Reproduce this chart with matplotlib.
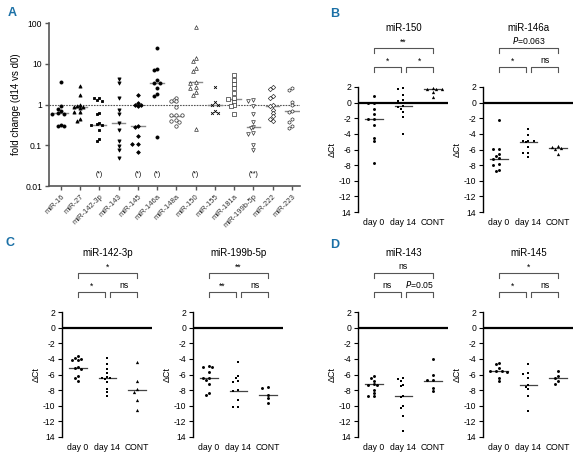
import numpy as np
import matplotlib
matplotlib.use("Agg")
import matplotlib.pyplot as plt

plt.rcParams['font.family'] = ['Liberation Sans Narrow', 'Liberation Sans', 'DejaVu Sans']
plt.rcParams['mathtext.fontset'] = 'custom'
plt.rcParams['mathtext.rm'] = 'Liberation Sans Narrow'
plt.rcParams['mathtext.it'] = 'Liberation Sans Narrow:italic'

# ---------------- Panel A data (fold change d14 vs d0) ----------------
A_categories = ['miR-16', 'miR-27', 'miR-142-3p', 'miR-143', 'miR-145', 'miR-146a',
                'miR-148a', 'miR-150', 'miR-155', 'miR-181a', 'miR-199b-5p', 'miR-222', 'miR-223']
fc_mir16 = [3.6, 0.9, 0.78, 0.69, 0.62, 0.6, 0.59, 0.32, 0.29, 0.29]
fc_mir27 = [2.8, 1.75, 0.95, 0.9, 0.88, 0.85, 0.8, 0.66, 0.66, 0.43, 0.4]
fc_mir142 = [1.45, 1.45, 1.3, 1.25, 0.62, 0.57, 0.35, 0.33, 0.32, 0.32, 0.24, 0.14, 0.13]
fc_mir143 = [4.2, 3.4, 1.45, 0.75, 0.57, 0.35, 0.24, 0.13, 0.095, 0.075, 0.05]
fc_mir145 = [1.75, 1.1, 1.0, 0.95, 0.9, 0.3, 0.28, 0.17, 0.11, 0.11, 0.07]
fc_mir146a = [24, 7.5, 7.0, 4.0, 3.4, 3.3, 2.6, 1.8, 1.6, 0.16]
fc_mir148a = [1.45, 1.3, 1.2, 1.2, 0.85, 0.55, 0.55, 0.55, 0.42, 0.4, 0.38, 0.3]
fc_mir150 = [81, 14, 12, 8.0, 6.8, 3.5, 3.4, 2.7, 2.6, 2.0, 1.75, 0.25]
fc_mir155 = [2.7, 1.15, 1.0, 0.96, 0.71, 0.62, 0.62]
fc_mir181a = [5.2, 4.0, 3.2, 2.5, 1.9, 1.45, 1.4, 1.15, 0.95, 0.9, 0.6]
fc_mir199b = [1.3, 1.25, 0.9, 0.6, 0.37, 0.28, 0.26, 0.2, 0.19, 0.1, 0.075]
fc_mir222 = [2.7, 2.4, 1.6, 1.45, 1.0, 0.9, 0.75, 0.62, 0.52, 0.45, 0.4]
fc_mir223 = [2.6, 2.3, 1.18, 0.95, 0.71, 0.67, 0.43, 0.38, 0.29, 0.27]
A_medians = [0.62, 0.86, 0.32, 0.35, 0.30, 3.3, 0.52, 3.5, 0.95, 1.4, 0.28, 0.9, 0.7]
A_sig = ['', '', '(*)', '', '(*)', '(*)', '', '(*)', '', '', '(**)', '', '']
A_yticks = [0.01, 0.1, 1, 10, 100]
A_yticklabels = ['0.01', '0.1', '1', '10', '100']

# ---------------- Panels B-D data (delta Ct) ----------------
groups = ['day 0', 'day 14', 'CONT']
dct_yticks = [2, 0, -2, -4, -6, -8, -10, -12, -14]
dct_yticklabels = ['2', '0', '-2', '-4', '-6', '-8', '-10', '-12', '14']

mir150_d0 = [0.9, -0.1, -0.1, -0.8, -1.4, -2.15, -2.15, -2.9, -4.5, -4.9, -7.7]
mir150_d14 = [1.9, 1.8, 1.0, 0.3, 0.2, -0.45, -0.5, -0.8, -1.2, -1.85, -4.0]
mir150_cont = [1.9, 1.8, 1.7, 1.7, 1.4, 0.7]
mir150_med = [-2.15, -0.45, 1.7]

mir146a_d0 = [-2.2, -5.9, -5.9, -6.6, -6.8, -7.1, -7.2, -7.9, -8.0, -8.6, -8.8]
mir146a_d14 = [-3.35, -4.1, -4.85, -4.85, -4.9, -5.0, -5.7, -6.4, -6.5, -6.9]
mir146a_cont = [-5.6, -5.7, -5.8, -5.9, -6.6]
mir146a_med = [-7.2, -5.0, -5.85]

mir142_d0 = [-3.6, -3.9, -4.0, -4.1, -4.2, -5.0, -5.2, -5.3, -6.2, -6.5, -6.8]
mir142_d14 = [-3.9, -4.6, -5.3, -5.8, -6.3, -6.4, -6.5, -6.6, -7.0, -7.8, -8.3, -8.8]
mir142_cont = [-4.4, -6.8, -7.9, -8.2, -9.2, -10.5]
mir142_med = [-5.2, -6.4, -8.0]

mir199b_d0 = [-4.9, -5.0, -5.1, -5.7, -6.4, -6.5, -6.7, -7.2, -8.35, -8.6]
mir199b_d14 = [-4.4, -6.2, -6.4, -6.8, -6.9, -8.0, -8.1, -9.2, -10.1, -10.1]
mir199b_cont = [-7.6, -7.7, -8.6, -9.0, -9.6]
mir199b_med = [-6.5, -8.1, -8.6]

mir143_d0 = [-6.2, -6.5, -6.8, -7.2, -7.3, -7.4, -8.0, -8.4, -8.8, -8.8]
mir143_d14 = [-6.5, -6.6, -6.8, -7.3, -7.5, -8.75, -8.9, -10.0, -10.3, -11.3, -13.2]
mir143_cont = [-4.0, -6.0, -6.7, -6.75, -7.7, -8.1]
mir143_med = [-7.2, -8.75, -6.8]

mir145_d0 = [-4.5, -4.7, -5.2, -5.5, -5.6, -5.6, -5.7, -6.4, -6.8]
mir145_d14 = [-4.7, -5.8, -5.9, -6.5, -7.4, -7.6, -7.9, -8.75, -10.7]
mir145_cont = [-5.55, -6.2, -6.4, -6.85, -7.2]
mir145_med = [-5.6, -7.4, -6.4]

# ---------------- helpers ----------------
W, H = 578, 457
fig = plt.figure(figsize=(W / 100, H / 100), dpi=100)


def add_ax(x0, x1, y0, y1):
    return fig.add_axes([x0 / W, 1 - y1 / H, (x1 - x0) / W, (y1 - y0) / H])


def swarm(vals, px_per_unit, px_per_cat, diam=3.0, log=False):
    vals = np.asarray(vals, dtype=float)
    yp = (np.log10(vals) if log else vals) * px_per_unit
    order = np.argsort(-yp)
    placed = []
    offs = np.zeros(len(vals))
    cands = [0]
    for k in range(1, 12):
        cands += [-k * diam * 0.95, k * diam * 0.95]
    for i in order:
        for c in cands:
            ok = all((c - px) ** 2 + (yp[i] - py) ** 2 >= diam ** 2 for px, py in placed)
            if ok:
                placed.append((c, yp[i]))
                offs[i] = c / px_per_cat
                break
    return offs


letter_color = '#1b70a6'
txt_fs = 6.2

# ---------------- Panel A ----------------
axA = add_ax(49, 300, 23, 186)
A_series = [fc_mir16, fc_mir27, fc_mir142, fc_mir143, fc_mir145, fc_mir146a, fc_mir148a,
            fc_mir150, fc_mir155, fc_mir181a, fc_mir199b, fc_mir222, fc_mir223]
A_markers = ['o', '^', 's', 'v', 'D', 'o', 'o', '^', 'x', 's', 'v', 'D', 'h']
A_filled = [True, True, True, True, True, True, False, False, True, False, False, False, False]
A_sizes = [5, 5, 4.5, 5, 3.5, 5, 6, 7, 4, 6, 7, 5, 6]
cat_px = 19.25
for i, vals in enumerate(A_series):
    offs = swarm(vals, 40.6, cat_px, diam=3.0, log=True)
    x = i + offs
    if A_filled[i]:
        axA.scatter(x, vals, s=A_sizes[i], marker=A_markers[i], color='black',
                    linewidths=0.6, zorder=3)
    else:
        axA.scatter(x, vals, s=A_sizes[i], marker=A_markers[i], facecolors='white',
                    edgecolors='#333333', linewidths=0.5, zorder=3)
    axA.plot([i - 0.35, i + 0.35], [A_medians[i]] * 2, color='#8a8a8a', lw=1.0, zorder=2)
    if A_sig[i]:
        axA.text(i, 0.019, A_sig[i], ha='center', va='center', fontsize=5)
axA.axhline(1, color='#555555', lw=0.8, ls=(0, (1.5, 1)), zorder=1)
axA.set_yscale('log')
axA.set_ylim(0.01, 100)
axA.set_xlim(-0.62, 12.42)
axA.set_yticks(A_yticks)
axA.set_yticklabels(A_yticklabels, fontsize=txt_fs)
axA.minorticks_off()
axA.set_xticks(range(len(A_categories)))
axA.set_xticklabels(A_categories, rotation=45, ha='right', rotation_mode='anchor', fontsize=5.5,
                    color='#333333')
axA.tick_params(axis='both', direction='out', length=3, width=1, color='#555555', pad=2)
for s in ['top', 'right']:
    axA.spines[s].set_visible(False)
for s in ['left', 'bottom']:
    axA.spines[s].set_color('#555555')
    axA.spines[s].set_linewidth(1.2)
axA.set_ylabel('fold change (d14 vs d0)', fontsize=7, labelpad=3)
fig.text(12 / W, 1 - 13 / H, 'A', color=letter_color, fontsize=9, fontweight='bold',
         ha='center', va='center')

# ---------------- Panels B-D ----------------
unit_per_px = 16 / 125.0


def dct_panel(x0, y0, title, d0, d14, cont, med, top_lbl, lbl1, lbl2, cont_marker):
    ax = add_ax(x0, x0 + 90, y0, y0 + 125)
    for gi, (vals, mk) in enumerate([(d0, 'o'), (d14, 's'), (cont, cont_marker)]):
        offs = swarm(vals, 7.8, 29.5, diam=3.0)
        ax.scatter(gi + offs, vals, s=4.5 if mk != '^' else 5.5, marker=mk, color='black',
                   linewidths=0, zorder=3)
        ax.plot([gi - 0.3, gi + 0.3], [med[gi]] * 2, color='#444444', lw=0.9, zorder=2)
    ax.axhline(0, color='black', lw=1.6, zorder=1)
    ax.set_ylim(-14, 2)
    ax.set_xlim(-0.54, 2.51)
    ax.set_yticks(dct_yticks)
    ax.set_yticklabels(dct_yticklabels, fontsize=txt_fs)
    ax.set_xticks(range(3))
    ax.set_xticklabels(groups, fontsize=txt_fs)
    ax.tick_params(axis='x', length=0, pad=4)
    ax.tick_params(axis='y', direction='out', length=3, width=0.8, pad=2)
    for s in ['top', 'right', 'bottom']:
        ax.spines[s].set_visible(False)
    ax.spines['left'].set_linewidth(1.0)
    ax.set_ylabel('ΔCt', fontsize=6.5, labelpad=1)
    # brackets
    yt = 2 + 39 * unit_per_px
    yl = 2 + 20 * unit_per_px
    leg = 5 * unit_per_px
    kw = dict(color='#555555', lw=0.8, clip_on=False)
    ax.plot([0, 0, 2, 2], [yt - leg, yt, yt, yt - leg], **kw)
    ax.plot([0, 0, 0.92, 0.92], [yl - leg, yl, yl, yl - leg], **kw)
    ax.plot([1.1, 1.1, 2, 2], [yl - leg, yl, yl, yl - leg], **kw)
    ax.text(1, yt + 0.2, top_lbl, ha='center', va='bottom', fontsize=txt_fs)
    ax.text(0.46, yl + 0.2, lbl1, ha='center', va='bottom', fontsize=txt_fs)
    ax.text(1.55, yl + 0.2, lbl2, ha='center', va='bottom', fontsize=txt_fs)
    ax.text(1, 2 + 59 * unit_per_px, title, ha='center', va='center', fontsize=7)
    return ax


dct_panel(358, 87, 'miR-150', mir150_d0, mir150_d14, mir150_cont, mir150_med, '**', '*', '*', '^')
dct_panel(483, 87, 'miR-146a', mir146a_d0, mir146a_d14, mir146a_cont, mir146a_med,
          r'$P$=0.063', '*', 'ns', '^')
dct_panel(62, 312, 'miR-142-3p', mir142_d0, mir142_d14, mir142_cont, mir142_med, '*', '*', 'ns', '^')
dct_panel(193, 312, 'miR-199b-5p', mir199b_d0, mir199b_d14, mir199b_cont, mir199b_med,
          '**', '**', 'ns', 'o')
dct_panel(358, 312, 'miR-143', mir143_d0, mir143_d14, mir143_cont, mir143_med, 'ns', 'ns',
          r'$P$=0.05', 'o')
dct_panel(483, 312, 'miR-145', mir145_d0, mir145_d14, mir145_cont, mir145_med, '*', '*', 'ns', 'o')

fig.text(335 / W, 1 - 14 / H, 'B', color=letter_color, fontsize=9, fontweight='bold',
         ha='center', va='center')
fig.text(10 / W, 1 - 243 / H, 'C', color=letter_color, fontsize=9, fontweight='bold',
         ha='center', va='center')
fig.text(335 / W, 1 - 245 / H, 'D', color=letter_color, fontsize=9, fontweight='bold',
         ha='center', va='center')

fig.savefig('out.png', dpi=100)
